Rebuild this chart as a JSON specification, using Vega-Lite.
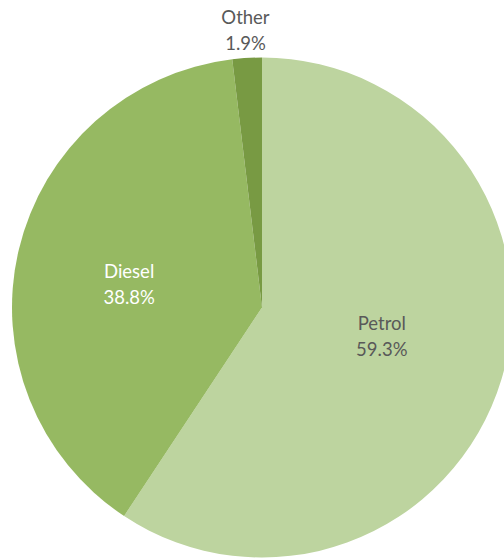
{
  "$schema": "https://vega.github.io/schema/vega-lite/v6.json",
  "width": 524,
  "height": 500,
  "autosize": {"type": "none"},
  "padding": {"left": 0, "top": 57.5, "right": 0, "bottom": 0},
  "background": "white",
  "view": {"stroke": null},
  "data": {
    "values": [
      {"type": "Petrol", "share": 59.3, "rank": 1, "label": "Petrol\n59.3%"},
      {"type": "Diesel", "share": 38.8, "rank": 2, "label": "Diesel\n38.8%"},
      {"type": "Other", "share": 1.9, "rank": 3, "label": "Other\n1.9%"}
    ]
  },
  "encoding": {
    "theta": {"field": "share", "type": "quantitative", "stack": true},
    "order": {"field": "rank", "type": "quantitative"}
  },
  "layer": [
    {
      "mark": {"type": "arc", "outerRadius": 250, "stroke": null},
      "encoding": {
        "color": {
          "field": "type",
          "type": "nominal",
          "scale": {"domain": ["Petrol", "Diesel", "Other"], "range": ["#BDD49F", "#96B962", "#789A43"]},
          "legend": null
        }
      }
    },
    {
      "mark": {"type": "text", "radius": 123, "dx": 2, "dy": -19, "font": "Lato", "fontSize": 18.5, "lineHeight": 26, "lineBreak": "\n", "baseline": "middle", "align": "center", "color": "#595959"},
      "encoding": {
        "text": {"field": "label"},
        "opacity": {"condition": {"test": "datum.type === 'Petrol'", "value": 1}, "value": 0}
      }
    },
    {
      "mark": {"type": "text", "radius": 135, "dx": -1.5, "dy": -4.5, "font": "Lato", "fontSize": 18.5, "lineHeight": 26, "lineBreak": "\n", "baseline": "middle", "align": "center", "color": "#FFFFFF"},
      "encoding": {
        "text": {"field": "label"},
        "opacity": {"condition": {"test": "datum.type === 'Diesel'", "value": 1}, "value": 0}
      }
    },
    {
      "mark": {"type": "text", "radius": 277, "dy": -13, "font": "Lato", "fontSize": 18.5, "lineHeight": 26, "lineBreak": "\n", "baseline": "middle", "align": "center", "color": "#595959"},
      "encoding": {
        "text": {"field": "label"},
        "opacity": {"condition": {"test": "datum.type === 'Other'", "value": 1}, "value": 0}
      }
    }
  ]
}
